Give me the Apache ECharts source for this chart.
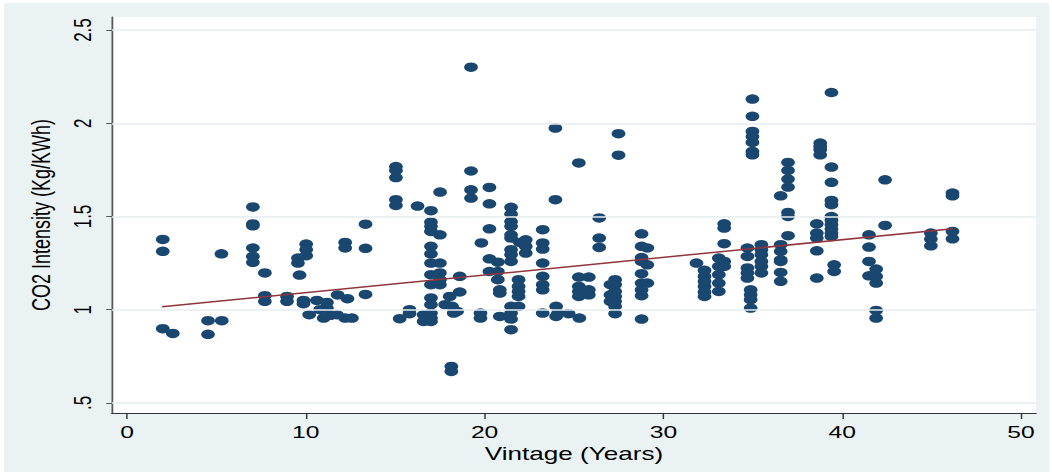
<!DOCTYPE html>
<html><head><meta charset="utf-8">
<script src="https://cdn.jsdelivr.net/npm/echarts@6/dist/echarts.min.js"></script>
<style>
html,body{margin:0;padding:0;background:#fff;overflow:hidden;width:1052px;height:474px;}
#frame{position:absolute;left:4px;top:3px;width:1045px;height:469px;background:#eaf2f3;}
#chart{position:absolute;left:0;top:0;height:474px;transform-origin:0 0;}
</style></head>
<body><div id="frame"></div><div id="chart"></div>
<script>
// ---- data ----
const vintage = [
 2.0,2.0,2.0,2.56,4.53,5.3,4.53,5.28,
 7.04,7.04,7.04,7.04,7.04,7.04,
 7.71,7.71,7.71, 8.95,8.95,
 9.56,9.56, 10.02,10.02,10.02, 9.65, 9.87,9.87,
 10.19,10.62,11.18,11.18,11.0,11.37,10.8,
 11.78,11.74,12.2,12.2,12.33,12.2,12.58,
 13.34,13.34,13.34,
 15.04,15.04,15.04,15.04,15.04, 16.25,15.25,15.8,15.8,16.59,16.59,
 17.0,17.0,17.0,17.0,17.0,17.0,17.0,17.0,17.0,17.0,17.0,17.0,17.0,17.0,
 17.51, 17.5,17.5,17.5,17.5,17.5,
 17.8,18.05,18.18,18.27,18.46,18.14,18.14,18.61,18.61,
 19.24,19.24,19.24,19.24, 19.82, 19.77,19.77,
 20.27,20.27,20.27,20.27,20.27, 20.74,20.74,20.74, 20.85,20.85,20.85,
 21.48,21.48,21.48,21.48,21.48,21.48,21.48,21.48,21.48,21.48,21.48,21.48,21.48,
 21.9,21.9,21.9,21.9,21.9, 22.3,22.3,22.3, 21.97,
 23.25,23.25,23.25,23.25,23.25,23.25,23.25,23.25,
 23.96,23.96,24.0,24.0,24.1,24.7,
 25.27, 25.27,25.27,25.27,25.27, 25.83,25.83,25.83, 25.3,
 26.41,26.41,26.41, 27.49,27.49,
 27.3,27.3,27.3,27.3,27.3,27.3,27.3, 27.04,27.04,27.04,
 28.78,28.78,28.78,28.78,28.78,28.78,28.78,28.78,28.78, 29.1,29.1,29.1,
 31.85, 32.3,32.3,32.3,32.3,32.3,32.3,
 33.1,33.1,33.1,33.1,33.1, 33.4,33.4,33.4,33.4,33.4,
 34.98,34.98,34.98,34.98,34.98,34.98,34.98,
 34.7,34.7,34.7,34.7,34.7, 34.88,34.88,34.88,34.88,
 35.48,35.48,35.48,35.48,35.48,35.48,
 36.56,36.56,36.56,36.56,36.56,36.56,36.56,
 36.97,36.97,36.97,36.97,36.97,36.97,36.97,
 38.58,38.58,38.58,38.58,38.58, 38.77,38.77,38.77,38.77,
 39.4,39.4,39.4,39.4,39.4,39.4,39.4,39.4,39.4,39.4,39.4, 39.55,39.55,
 42.4,42.4, 41.5,41.5,41.5,41.5, 41.9,41.9,41.9,41.9,41.9,
 44.96,44.96,44.96, 46.17,46.17,46.17,46.17
];
const intensity = [
 1.377,1.313,0.898,0.873,0.941,0.941,0.868,1.30,
 1.551,1.46,1.45,1.331,1.286,1.254,
 1.197,1.075,1.045, 1.071,1.045,
 1.277,1.25, 1.352,1.322,1.29, 1.186, 1.05,1.032,
 0.973,1.05,1.039,1.009,0.955,0.97,1.0,
 1.079,0.973,1.361,1.331,1.059,0.955,0.955,
 1.459,1.329,1.082,
 1.768,1.747,1.709,1.59,1.559, 1.556,0.952,1.0,0.979,0.973,0.937,
 1.531,1.47,1.447,1.42,1.34,1.30,1.25,1.188,1.134,1.063,1.027,0.982,0.955,0.937,
 1.631, 1.402,1.25,1.197,1.161,1.134,
 1.027,1.071,1.018,0.982,0.991,0.696,0.669,1.179,1.095,
 2.301,1.744,1.643,1.599, 1.358, 0.982,0.955,
 1.656,1.568,1.434,1.273,1.205, 1.255,1.205,1.161, 1.107,1.089,0.964,
 1.549,1.513,1.473,1.447,1.402,1.384,1.322,1.295,1.259,1.018,0.982,0.95,0.893,
 1.161,1.125,1.098,1.071,1.018, 1.375,1.34,1.304, 1.361,
 1.429,1.358,1.325,1.25,1.179,1.134,1.107,0.982,
 1.974,1.59,1.018,0.964,0.98,0.979,
 1.787, 1.175,1.125,1.098,1.071, 1.175,1.107,1.08, 0.955,
 1.492,1.384,1.334, 1.944,1.829,
 1.161,1.134,1.098,1.071,1.045,1.018,0.979, 1.134,1.08,1.045,
 1.407,1.34,1.28,1.259,1.193,1.143,1.107,1.075,0.95, 1.331,1.241,1.143,
 1.25, 1.211,1.179,1.152,1.125,1.095,1.071,
 1.277,1.232,1.188,1.143,1.098, 1.461,1.438,1.354,1.259,1.232,
 2.13,2.037,1.956,1.929,1.897,1.849,1.831,
 1.331,1.286,1.224,1.197,1.17, 1.107,1.08,1.054,1.009,
 1.349,1.322,1.295,1.259,1.232,1.197,
 1.611,1.349,1.313,1.268,1.259,1.2,1.152,
 1.79,1.747,1.701,1.658,1.522,1.5,1.397,
 1.461,1.411,1.384,1.316,1.17, 1.894,1.876,1.858,1.831,
 2.165,1.765,1.683,1.586,1.563,1.5,1.479,1.456,1.433,1.411,1.393, 1.241,1.205,
 1.697,1.452, 1.402,1.336,1.259,1.182, 1.218,1.179,1.143,0.996,0.955,
 1.411,1.379,1.343, 1.626,1.611,1.42,1.38
];
const fitX = [1.96, 46.2];
const fitY = [1.016, 1.434];
const xTicks = [0, 10, 20, 30, 40, 50];
const yTicks = [0.5, 1, 1.5, 2, 2.5];
const yTickLabels = ['.5', '1', '1.5', '2', '2.5'];

// ---- layout (reference image is horizontally stretched) ----
const S = 1.45;
const W = 1052, H = 474;
const el = document.getElementById('chart');
el.style.width = (W / S) + 'px';
el.style.transform = 'scaleX(' + S + ')';

const points = vintage.map((v, i) => [v, intensity[i]]);
const fitData = fitX.map((v, i) => [v, fitY[i]]);
const FONT = 'Liberation Sans';

const chart = echarts.init(el, null, {renderer: 'svg', width: W / S, height: H});
chart.setOption({
  animation: false,
  backgroundColor: 'transparent',
  textStyle: {fontFamily: FONT},
  grid: {left: 112 / S, right: (W - 1036) / S, top: 17, bottom: H - 413,
         show: true, backgroundColor: '#ffffff', borderWidth: 0},
  xAxis: {
    type: 'value', min: -0.84, max: 50.84,
    name: 'Vintage (Years)', nameLocation: 'middle', nameGap: 27,
    nameTextStyle: {fontSize: 18, color: '#000', fontFamily: FONT},
    axisLine: {show: true, onZero: false, lineStyle: {color: '#333', width: 1.2}},
    axisTick: {show: true, length: 6, customValues: xTicks, lineStyle: {color: '#333', width: 1}},
    axisLabel: {customValues: xTicks, fontSize: 17, color: '#000', margin: 10, fontFamily: FONT,
                formatter: v => String(v)},
    splitLine: {show: false}
  },
  yAxis: {
    type: 'value', min: 0.446, max: 2.57,
    name: 'CO2 Intensity (Kg/KWh)', nameLocation: 'middle', nameGap: 40,
    nameTextStyle: {fontSize: 18, color: '#000', fontFamily: FONT},
    axisLine: {show: true, onZero: false, lineStyle: {color: '#555', width: 1.2}},
    axisTick: {show: true, length: 4, customValues: yTicks, lineStyle: {color: '#555', width: 1}},
    axisLabel: {customValues: yTicks, fontSize: 17, color: '#000', margin: 12, rotate: 90, fontFamily: FONT,
                formatter: v => { const k = yTicks.findIndex(t => Math.abs(t - v) < 1e-6); return k >= 0 ? yTickLabels[k] : ''; }},
    splitLine: {show: false}
  },
  series: [
    {
      type: 'line', data: [], z: 1, silent: true,
      markLine: {
        silent: true, symbol: ['none', 'none'], label: {show: false},
        lineStyle: {color: '#e6eef0', width: 1.5, type: 'solid'},
        data: yTicks.map(v => ({yAxis: v}))
      }
    },
    {
      type: 'scatter', data: points, z: 2, symbol: 'circle', symbolSize: 9.5,
      itemStyle: {color: '#1a476f', opacity: 1}
    },
    {
      type: 'line', data: fitData, z: 3, symbol: 'none', silent: true,
      lineStyle: {color: '#90353b', width: 1.5}
    }
  ]
});
</script>
</body></html>
